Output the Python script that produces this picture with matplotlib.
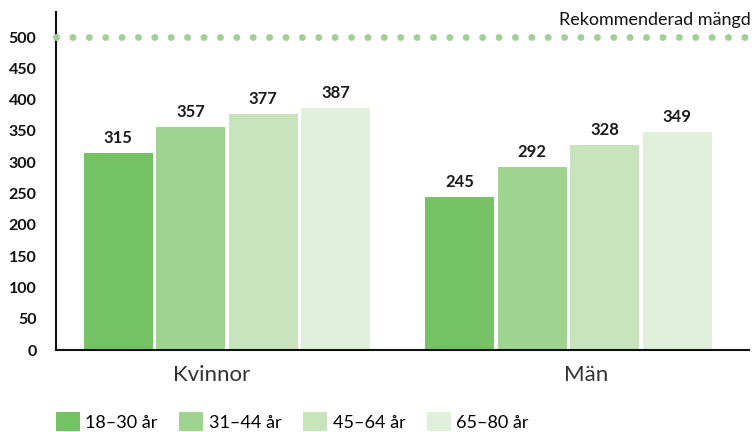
import matplotlib
matplotlib.use("Agg")
import matplotlib.pyplot as plt
import numpy as np
from matplotlib.patches import Patch

groups = ["Kvinnor", "Män"]
series = ["18–30 år", "31–44 år", "45–64 år", "65–80 år"]
values = {
    "18–30 år": [315, 245],
    "31–44 år": [357, 292],
    "45–64 år": [377, 328],
    "65–80 år": [387, 349],
}
colors = ["#75c365", "#9fd390", "#c7e4bd", "#e0f0da"]
yticks = [0, 50, 100, 150, 200, 250, 300, 350, 400, 450, 500]
recommended = 500
rec_label = "Rekommenderad mängd"

plt.rcParams['font.family'] = ['Lato', 'DejaVu Sans']

W, H = 752, 432
fig = plt.figure(figsize=(W/100, H/100), dpi=100)
ax = fig.add_axes([56/W, 1-350/H, (749-56)/W, (350-12)/H])

x = np.arange(len(groups))
slot = 0.2123
width = 0.202
for i, (s, c) in enumerate(zip(series, colors)):
    off = (i - 1.5) * slot
    bars = ax.bar(x + off, values[s], width=width, color=c, label=s, zorder=2)
    for b, v in zip(bars, values[s]):
        ax.annotate(str(v), (b.get_x() + b.get_width()/2, v), xytext=(0, 5),
                    textcoords="offset points", ha="center", va="bottom",
                    fontsize=12, fontweight="bold", color="#1a1a1a")

ax.set_xlim(-0.5007, 1.5286)
ax.set_ylim(0, 540)
ax.set_yticks(yticks)
ax.set_yticklabels([str(t) for t in yticks], fontsize=11.5, fontweight="bold", color="#111111")
ax.tick_params(axis="y", length=0, pad=14)
label_shift = [-0.045, 0.051]
ax.set_xticks(x + np.array(label_shift))
ax.set_xticklabels(groups, fontsize=16, color="#333333")
ax.tick_params(axis="x", length=0, pad=11)

for sp in ["top", "right"]:
    ax.spines[sp].set_visible(False)
for sp in ["left", "bottom"]:
    ax.spines[sp].set_linewidth(1.5)
    ax.spines[sp].set_color("#111111")

ax.axhline(recommended, color="#a0d095", linewidth=5, linestyle=(0, (0.01, 2.35)),
           dash_capstyle="round", zorder=3, clip_on=False)
fig.text(751/W, 1-20/H, rec_label, ha="right", va="center",
         fontsize=13, color="#111111")

handles = [Patch(facecolor=c, edgecolor="none") for c in colors]
fig.legend(handles, series, loc="center left", bbox_to_anchor=(56/W, 1-421.5/H), ncol=4,
           frameon=False, fontsize=13, handlelength=1.33, handleheight=1.17,
           handletextpad=0.3, columnspacing=1.2, borderpad=0, borderaxespad=0)

fig.savefig("out.png", dpi=100)
